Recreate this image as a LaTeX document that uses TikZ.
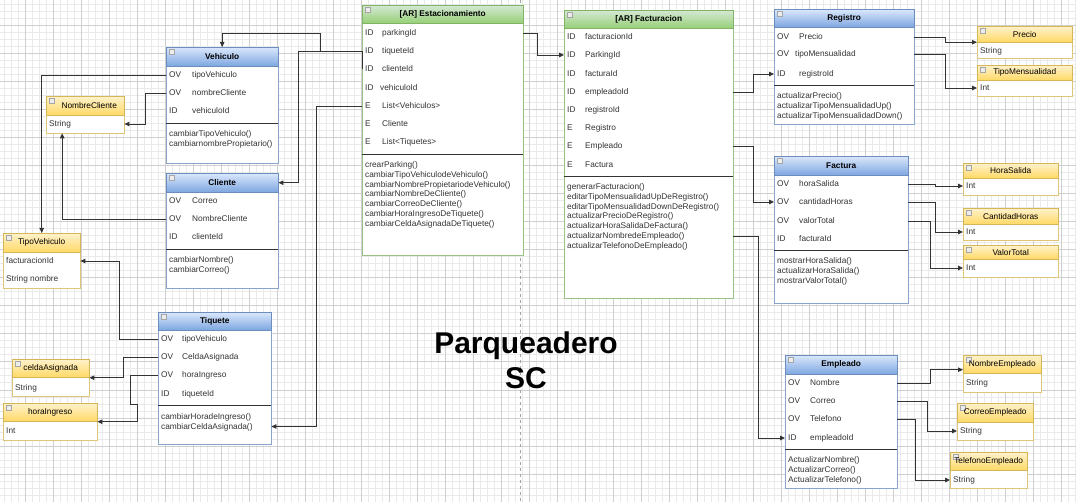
\documentclass[tikz,border=0pt]{standalone}
\usepackage{fontspec}
\setmainfont{Liberation Sans}
\usetikzlibrary{arrows.meta}
\definecolor{lineB}{HTML}{6C8EBF}
\definecolor{topB}{HTML}{DAE8FC}
\definecolor{botB}{HTML}{7EA6E0}
\definecolor{lineG}{HTML}{82B366}
\definecolor{topG}{HTML}{D5E8D4}
\definecolor{botG}{HTML}{97D077}
\definecolor{lineY}{HTML}{D6B656}
\definecolor{topY}{HTML}{FFF2CC}
\definecolor{botY}{HTML}{FFD966}
\definecolor{txt}{HTML}{333333}
\definecolor{gridA}{HTML}{EAEAEA}
\definecolor{gridB}{HTML}{CFCFCF}
\newcommand{\umlattr}[3][22pt]{\makebox[#1][l]{#2}#3}
\newcommand{\rowfont}{\fontsize{8.3}{9.9}\selectfont}
\tikzset{
  body/.style={draw=#1, fill=white, anchor=north west, inner sep=0pt},
  hdr/.style={anchor=north west, inner sep=0pt, text=black,
    path picture={\draw[gray!70, fill=gray!15] ([xshift=3pt,yshift=-2pt]path picture bounding box.north west) rectangle ++(5pt,-5pt);}},
  hdrB/.style={hdr, draw=lineB, top color=topB, bottom color=botB, font=\rowfont\bfseries},
  hdrG/.style={hdr, draw=lineG, top color=topG, bottom color=botG, font=\rowfont\bfseries},
  hdrY/.style={hdr, draw=lineY, top color=topY, bottom color=botY, font=\rowfont},
  row/.style={anchor=west, inner xsep=3pt, inner ysep=0pt, font=\rowfont, text=txt},
  meth/.style={anchor=north west, align=left, inner xsep=3pt, inner ysep=0pt, font=\rowfont, text=txt},
  sep/.style={draw=txt, line width=0.8pt},
  conn/.style={draw=txt, line width=0.9pt, -{Triangle[length=5pt,width=4.5pt]}},
  title/.style={align=center, font=\fontsize{30}{35}\selectfont\bfseries}
}
\begin{document}
\begin{tikzpicture}[x=1pt, y=-1pt]
  \useasboundingbox (0,0) rectangle (1076,502);
  \fill[white] (0,0) rectangle (1076,502);
  \foreach \gx in {4,11,...,1076} \draw[gridA, line width=1pt] (\gx,0) -- (\gx,502);
  \foreach \gy in {5,12,...,502} \draw[gridA, line width=1pt] (0,\gy) -- (1076,\gy);
  \foreach \gx in {25,53,...,1076} \draw[gridB, line width=1pt] (\gx,0) -- (\gx,502);
  \foreach \gy in {26,54,...,502} \draw[gridB, line width=1pt] (0,\gy) -- (1076,\gy);
  \draw[gray!70, dashed] (520.5,0) -- (520.5,502);

  \node[title] (tit) at (526,360) {Parqueadero\\SC};

  \node[body=lineB!80, minimum width=112pt, minimum height=116pt] (vehB) at (166,47) {};
  \node[hdrB, minimum width=112pt, minimum height=19pt] (veh) at (166,47) {Vehiculo};
  \node[row] (veh1) at (166,75) {\umlattr[23pt]{OV}{tipoVehiculo}};
  \node[row] (veh2) at (166,93) {\umlattr[23pt]{OV}{nombreCliente}};
  \node[row] (veh3) at (166,111) {\umlattr[23pt]{ID}{vehiculoId}};
  \draw[sep] (166,123) -- (278,123);
  \node[meth] (vehM) at (166,130) {cambiarTipoVehiculo()\\cambiarnombrePropietario()};

  \node[body=lineB!80, minimum width=112pt, minimum height=115pt] (cliB) at (166,173) {};
  \node[hdrB, minimum width=112pt, minimum height=19pt] (cli) at (166,173) {Cliente};
  \node[row] (cli1) at (166,201) {\umlattr[23pt]{OV}{Correo}};
  \node[row] (cli2) at (166,219) {\umlattr[23pt]{OV}{NombreCliente}};
  \node[row] (cli3) at (166,237) {\umlattr[23pt]{ID}{clienteId}};
  \draw[sep] (166,249) -- (278,249);
  \node[meth] (cliM) at (166,256) {cambiarNombre()\\cambiarCorreo()};

  \node[body=lineB!80, minimum width=113pt, minimum height=132pt] (tiqB) at (158,312) {};
  \node[hdrB, minimum width=113pt, minimum height=18pt] (tiq) at (158,312) {Tiquete};
  \node[row] (tiq1) at (158,339) {\umlattr[21pt]{OV}{tipoVehiculo}};
  \node[row] (tiq2) at (158,357) {\umlattr[21pt]{OV}{CeldaAsignada}};
  \node[row] (tiq3) at (158,375) {\umlattr[21pt]{OV}{horaIngreso}};
  \node[row] (tiq4) at (158,394) {\umlattr[21pt]{ID}{tiqueteId}};
  \draw[sep] (158,405) -- (271,405);
  \node[meth] (tiqM) at (158,413) {cambiarHoradeIngreso()\\cambiarCeldaAsignada()};

  \node[body=lineG!80, minimum width=161pt, minimum height=250pt] (estB) at (362,5) {};
  \node[hdrG, minimum width=161pt, minimum height=18pt] (est) at (362,5) {[AR] Estacionamiento};
  \node[row] (est1) at (362,33) {\umlattr[17pt]{ID}{parkingId}};
  \node[row] (est2) at (362,51) {\umlattr[17pt]{ID}{tiqueteId}};
  \node[row] (est3) at (362,69) {\umlattr[17pt]{ID}{clienteId}};
  \node[row] (est4) at (362,88) {\umlattr[15pt]{ID}{vehiculoId}};
  \node[row] (est5) at (362,106) {\umlattr[17pt]{E}{List<Vehiculos>}};
  \node[row] (est6) at (362,124) {\umlattr[17pt]{E}{Cliente}};
  \node[row] (est7) at (362,142) {\umlattr[17pt]{E}{List<Tiquetes>}};
  \draw[sep] (362,154) -- (523,154);
  \node[meth] (estM) at (362,161) {crearParking()\\cambiarTipoVehiculodeVehiculo()\\cambiarNombrePropietariodeVehiculo()\\cambiarNombreDeCliente()\\cambiarCorreoDeCliente()\\cambiarHoraIngresoDeTiquete()\\cambiarCeldaAsignadaDeTiquete()};

  \node[body=lineG!80, minimum width=169pt, minimum height=288pt] (facB) at (564,10) {};
  \node[hdrG, minimum width=169pt, minimum height=18pt] (fac) at (564,10) {[AR] Facturacion};
  \node[row] (fac1) at (564,37) {\umlattr[18pt]{ID}{facturacionId}};
  \node[row] (fac2) at (564,55) {\umlattr[18pt]{ID}{ParkingId}};
  \node[row] (fac3) at (564,74) {\umlattr[18pt]{ID}{facturaId}};
  \node[row] (fac4) at (564,92) {\umlattr[18pt]{ID}{empleadoId}};
  \node[row] (fac5) at (564,110) {\umlattr[18pt]{ID}{registroId}};
  \node[row] (fac6) at (564,128) {\umlattr[18pt]{E}{Registro}};
  \node[row] (fac7) at (564,146) {\umlattr[18pt]{E}{Empleado}};
  \node[row] (fac8) at (564,165) {\umlattr[18pt]{E}{Factura}};
  \draw[sep] (564,176) -- (733,176);
  \node[meth] (facM) at (564,183) {generarFacturacion()\\editarTipoMensualidadUpDeRegistro()\\editarTipoMensualidadDownDeRegistro()\\actualizarPrecioDeRegistro()\\actualizarHoraSalidaDeFactura()\\actualizarNombredeEmpleado()\\actualizarTelefonoDeEmpleado()};

  \node[body=lineB!80, minimum width=140pt, minimum height=115pt] (regB) at (774,9) {};
  \node[hdrB, minimum width=140pt, minimum height=18pt] (reg) at (774,9) {Registro};
  \node[row] (reg1) at (774,37) {\umlattr{OV}{Precio}};
  \node[row] (reg2) at (774,54) {\umlattr[18pt]{OV}{tipoMensualidad}};
  \node[row] (reg3) at (774,74) {\umlattr{ID}{registroId}};
  \draw[sep] (774,85) -- (914,85);
  \node[meth] (regM) at (774,92) {actualizarPrecio()\\actualizarTipoMensualidadUp()\\actualizarTipoMensualidadDown()};

  \node[body=lineB!80, minimum width=134pt, minimum height=147pt] (fctB) at (774,156) {};
  \node[hdrB, minimum width=134pt, minimum height=19pt] (fct) at (774,156) {Factura};
  \node[row] (fct1) at (774,184) {\umlattr{OV}{horaSalida}};
  \node[row] (fct2) at (774,202) {\umlattr{OV}{cantidadHoras}};
  \node[row] (fct3) at (774,221) {\umlattr{OV}{valorTotal}};
  \node[row] (fct4) at (774,239) {\umlattr{ID}{facturaId}};
  \draw[sep] (774,250) -- (908,250);
  \node[meth] (fctM) at (774,257) {mostrarHoraSalida()\\actualizarHoraSalida()\\mostrarValorTotal()};

  \node[body=lineB!80, minimum width=112pt, minimum height=133pt] (empB) at (785,355) {};
  \node[hdrB, minimum width=112pt, minimum height=19pt] (emp) at (785,355) {Empleado};
  \node[row] (emp1) at (785,383) {\umlattr{OV}{Nombre}};
  \node[row] (emp2) at (785,401) {\umlattr{OV}{Correo}};
  \node[row] (emp3) at (785,419) {\umlattr{OV}{Telefono}};
  \node[row] (emp4) at (785,438) {\umlattr{ID}{empleadoId}};
  \draw[sep] (785,449) -- (897,449);
  \node[meth] (empM) at (785,456) {ActualizarNombre()\\ActualizarCorreo()\\ActualizarTelefono()};

  \node[body=lineY!80, minimum width=78pt, minimum height=37pt] (ncB) at (46,96) {};
  \node[hdrY, minimum width=78pt, minimum height=19pt] (nc) at (46,96) {\hspace{8pt}NombreCliente};
  \node[row] (nc1) at (46,124) {String};

  \node[body=lineY!80, minimum width=77pt, minimum height=55pt] (tvB) at (3,233) {};
  \node[hdrY, minimum width=77pt, minimum height=19pt] (tv) at (3,233) {TipoVehiculo};
  \node[row] (tv1) at (3,261) {facturacionId};
  \node[row] (tv2) at (3,279) {String nombre};

  \node[body=lineY!80, minimum width=77pt, minimum height=37pt] (celB) at (12,359) {};
  \node[hdrY, minimum width=77pt, minimum height=18pt] (cel) at (12,359) {celdaAsignada};
  \node[row] (cel1) at (12,388) {String};

  \node[body=lineY!80, minimum width=94pt, minimum height=37pt] (horB) at (3,403) {};
  \node[hdrY, minimum width=94pt, minimum height=18pt] (hor) at (3,403) {horaIngreso};
  \node[row] (hor1) at (3,431) {Int};

  \node[body=lineY!80, minimum width=95pt, minimum height=32pt] (preB) at (977,26) {};
  \node[hdrY, minimum width=95pt, minimum height=16pt] (pre) at (977,26) {Precio};
  \node[row] (pre1) at (977,51) {String};

  \node[body=lineY!80, minimum width=95pt, minimum height=31pt] (tmB) at (977,65) {};
  \node[hdrY, minimum width=95pt, minimum height=15pt] (tm) at (977,65) {TipoMensualidad};
  \node[row] (tm1) at (977,88) {Int};

  \node[body=lineY!80, minimum width=95pt, minimum height=32pt] (hsB) at (963,163) {};
  \node[hdrY, minimum width=95pt, minimum height=15pt] (hs) at (963,163) {HoraSalida};
  \node[row] (hs1) at (963,186) {Int};

  \node[body=lineY!80, minimum width=95pt, minimum height=32pt] (chB) at (963,208) {};
  \node[hdrY, minimum width=95pt, minimum height=16pt] (ch) at (963,208) {CantidadHoras};
  \node[row] (ch1) at (963,232) {Int};

  \node[body=lineY!80, minimum width=95pt, minimum height=32pt] (vtB) at (963,245) {};
  \node[hdrY, minimum width=95pt, minimum height=14pt] (vt) at (963,245) {ValorTotal};
  \node[row] (vt1) at (963,268) {Int};

  \node[body=lineY!80, minimum width=78pt, minimum height=37pt] (neB) at (963,355) {};
  \node[hdrY, minimum width=78pt, minimum height=18pt] (ne) at (963,355) {NombreEmpleado};
  \node[row] (ne1) at (963,383) {String};

  \node[body=lineY!80, minimum width=76pt, minimum height=37pt] (ceB) at (957,403) {};
  \node[hdrY, minimum width=76pt, minimum height=19pt] (ce) at (957,403) {CorreoEmpleado};
  \node[row] (ce1) at (957,431) {String};

  \node[body=lineY!80, minimum width=77pt, minimum height=36pt] (teB) at (950,452) {};
  \node[hdrY, minimum width=77pt, minimum height=18pt] (te) at (950,452) {TelefonoEmpleado};
  \node[row] (te1) at (950,480) {String};

  \draw[conn] (est2.west) -| (320,33) -| (veh.north);
  \draw[conn] (est2.west) -| ([xshift=20pt]cli.east) -- (cli.east);
  \draw[sep] (est2.west) -- (est3.west);
  \draw[conn] (est5.west) -| ([xshift=45pt,yshift=-4.5pt]tiqB.east |- tiqM.center) -- ([yshift=-4.5pt]tiqB.east |- tiqM.center);
  \draw[conn] (veh1.west) -| (tv.north);
  \draw[conn] (veh2.west) -- ++(-21,0) |- (nc1.west -| ncB.east);
  \draw[conn] (cli2.west) -| ([xshift=-23pt]ncB.south);
  \draw[conn] (tiq1.west) -- ++(-39,0) |- (tv1.west -| tvB.east);
  \draw[conn] (tiq2.west) -- ++(-35,0) |- (celB.east);
  \draw[conn] (tiq3.west) -- ++(-28,0) -- ++(0,29) -- ++(7,0) |- (horB.east);

  \draw[conn] (est1.west -| estB.east) -- ++(14,0) |- (fac2.west);
  \draw[conn] (fac4.west -| facB.east) -- ++(20,0) |- (reg3.west);
  \draw[conn] (fac7.west -| facB.east) -- ++(20,0) |- (fct2.west);
  \draw[conn] ([yshift=-20pt]facM.center -| facB.east) -- ++(25,0) |- (emp4.west);
  \draw[conn] (reg1.west -| regB.east) -- ++(31,0) |- (preB.west);
  \draw[conn] (reg2.west -| regB.east) -- ++(31,0) |- (tm1.west);
  \draw[conn] (fct1.west -| fctB.east) -- ++(27,0) |- (hs1.west);
  \draw[conn] (fct2.west -| fctB.east) -- ++(27,0) |- (ch1.west);
  \draw[conn] (fct3.west -| fctB.east) -- ++(22,0) |- (vt1.west);
  \draw[conn] (emp1.west -| empB.east) -- ++(33,0) |- ([yshift=4pt]neB.west);
  \draw[conn] (emp2.west -| empB.east) -- ++(30,0) |- (ce1.west);
  \draw[conn] (emp3.west -| empB.east) -- ++(18,0) |- (te1.west);
\end{tikzpicture}
\end{document}
